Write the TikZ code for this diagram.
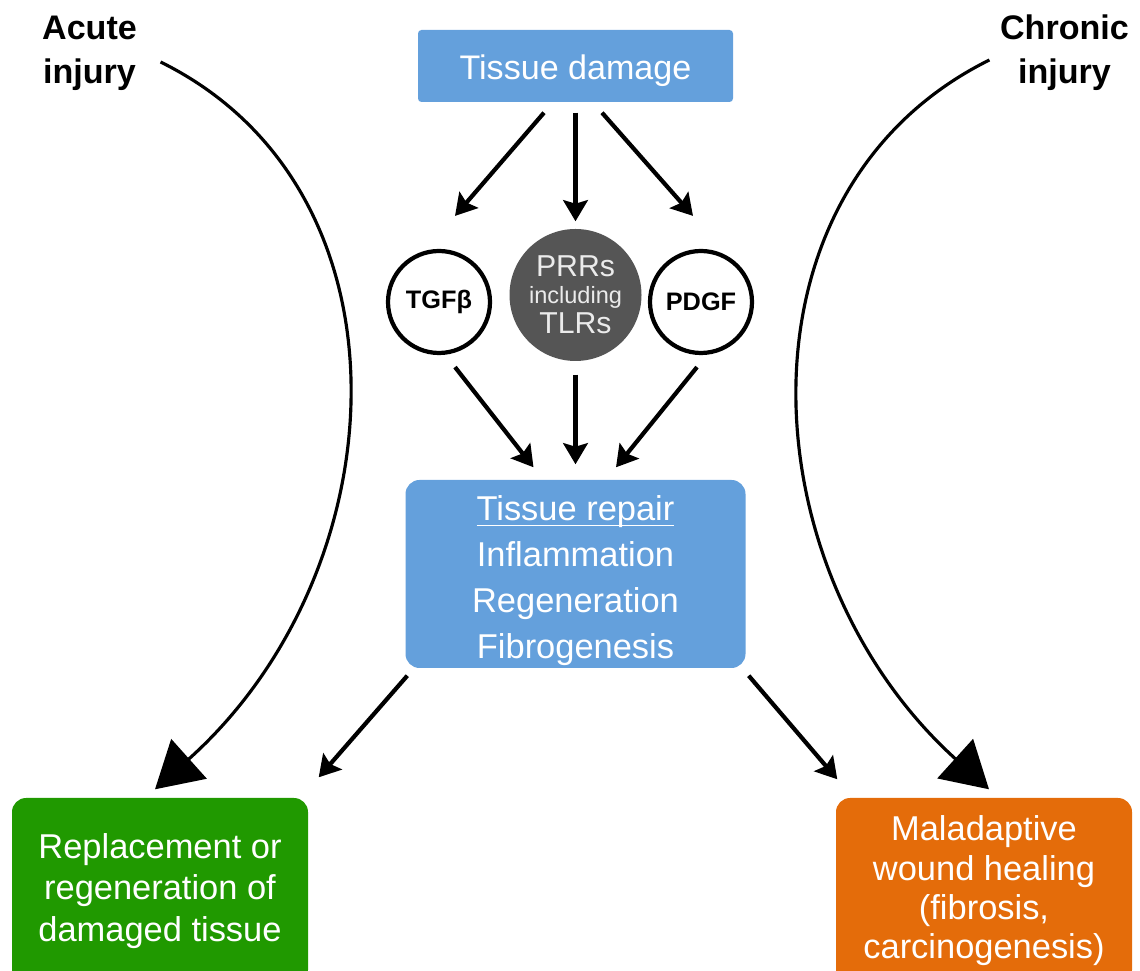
\documentclass[tikz,border=0pt]{standalone}
\usepackage{fontspec}
\setmainfont{Liberation Sans}
\usepackage{xcolor}
\definecolor{tissueblue}{RGB}{100,160,220}
\definecolor{healgreen}{RGB}{32,153,0}
\definecolor{fibroorange}{RGB}{228,108,10}
\definecolor{prrgrey}{RGB}{85,85,85}
\usetikzlibrary{arrows.meta, positioning}
\newcommand{\repairhead}[1]{\underline{\raisebox{0pt}[\dimexpr\height+4pt\relax][0pt]{#1}}}

\begin{document}
\begin{tikzpicture}[
          bluebox/.style={
              fill=tissueblue,
              text=white,
              inner sep=0pt,
              align=center
            },
          ring/.style={
              circle,
              draw=black,
              fill=white,
              line width=1.2pt,
              inner sep=0pt,
              minimum size=1.02cm,
              font=\fontsize{7.2}{8}\selectfont\bfseries
            },
          outcome/.style={
              text=white,
              rounded corners=4pt,
              inner sep=0pt,
              minimum width=2.96cm,
              minimum height=1.86cm,
              align=center
            },
          injury/.style={
              inner sep=0pt,
              align=center,
              font=\fontsize{9.7}{12.6}\selectfont\bfseries
            },
          arr/.style={-{Stealth[length=6pt, width=7pt, inset=1pt]}, line width=1.2pt},
          bigarr/.style={-{Triangle[length=13pt, width=15pt]}, line width=0.9pt}
        ]
        \useasboundingbox (0,0) rectangle (11.4,-9.71);

        \node[bluebox, rounded corners=1pt, minimum width=3.15cm, minimum height=0.72cm,
          font=\fontsize{9.7}{12}\selectfont] (damage) at (5.755,-0.66)
        {\raisebox{-1.2pt}[\height][\depth]{Tissue damage}};

        \node[ring] (tgfb) at (4.39,-3.02) {TGFβ};
        \node[circle, fill=prrgrey, text=white!92!black, inner sep=0pt, minimum size=1.32cm,
          align=center, font=\fontsize{8.6}{8.6}\selectfont] (prrs) at (5.755,-2.95)
        {PRRs\\[-1pt]{\fontsize{6.7}{7}\selectfont including}\\[0pt]TLRs};
        \node[ring] (pdgf) at (7.01,-3.02) {PDGF};

        \node[bluebox, rounded corners=4pt, minimum width=3.40cm, minimum height=1.88cm,
          font=\fontsize{9.8}{13.1}\selectfont] (repair) at (5.755,-5.74)
        {\repairhead{Tissue repair}\\Inflammation\\Regeneration\\Fibrogenesis};

        \node[outcome, fill=healgreen, font=\fontsize{9.8}{11.8}\selectfont] (replace) at (1.60,-8.91)
        {Replacement or\\regeneration of\\damaged tissue};
        \node[outcome, fill=fibroorange, font=\fontsize{9.8}{11.2}\selectfont] (maladapt) at (9.84,-8.91)
        {Maladaptive\\wound healing\\(fibrosis,\\carcinogenesis)};

        \node[injury] (acute) at (0.895,-0.53) {Acute\\injury};
        \node[injury] (chronic) at (10.645,-0.53) {Chronic\\injury};

        % damage to mediators
        \draw[arr] ([xshift=-0.315cm,yshift=-0.1cm]damage.south) -- ([xshift=0.16cm,yshift=0.33cm]tgfb.north);
        \draw[arr] ([yshift=-0.1cm]damage.south) -- ([yshift=0.07cm]prrs.north);
        \draw[arr] ([xshift=0.265cm,yshift=-0.1cm]damage.south) -- ([xshift=-0.08cm,yshift=0.33cm]pdgf.north);

        % mediators to repair
        \draw[arr] ([xshift=0.16cm,yshift=-0.12cm]tgfb.south) -- ([xshift=-0.42cm,yshift=0.12cm]repair.north);
        \draw[arr] ([yshift=-0.13cm]prrs.south) -- ([yshift=0.15cm]repair.north);
        \draw[arr] ([xshift=-0.04cm,yshift=-0.12cm]pdgf.south) -- ([xshift=0.405cm,yshift=0.12cm]repair.north);

        % repair to outcomes
        \draw[arr] ([xshift=0.025cm,yshift=-0.07cm]repair.south west) -- ([xshift=0.1cm,yshift=0.2cm]replace.north east);
        \draw[arr] ([xshift=0.025cm,yshift=-0.07cm]repair.south east) -- ([xshift=0.02cm,yshift=0.18cm]maladapt.north west);

        % injury paths
        \draw[bigarr] ([xshift=0.23cm,yshift=-0.09cm]acute.east) .. controls (4.2,-1.9) and (4.0,-5.7) .. ([xshift=-0.05cm,yshift=0.08cm]replace.north);
        \draw[bigarr] ([xshift=-0.1cm,yshift=-0.07cm]chronic.west) .. controls (7.27,-1.9) and (7.47,-5.7) .. ([xshift=0.05cm,yshift=0.08cm]maladapt.north);
      \end{tikzpicture}
\end{document}
